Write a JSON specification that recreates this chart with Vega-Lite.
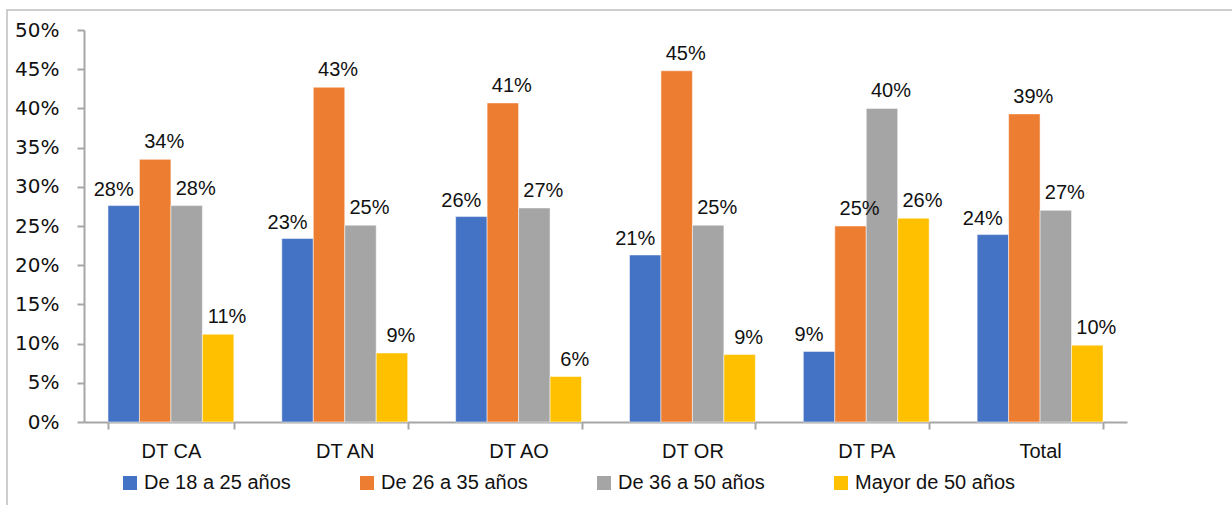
{
  "$schema": "https://vega.github.io/schema/vega-lite/v6.json",
  "width": 1240,
  "height": 510,
  "autosize": {"type": "none"},
  "padding": {"left": 7, "top": 10, "right": 0, "bottom": 0},
  "background": "white",
  "config": {
    "view": {"stroke": "#bfbfbf", "strokeWidth": 1.5},
    "axis": {"grid": false, "domainColor": "#a6a6a6", "domainWidth": 2, "tickColor": "#a6a6a6", "tickWidth": 2, "labelColor": "#111111", "title": null}
  },
  "data": {
    "values": [
      {"dt": "DT CA", "grupo": "De 18 a 25 años", "v": 0.276},
      {"dt": "DT CA", "grupo": "De 26 a 35 años", "v": 0.335},
      {"dt": "DT CA", "grupo": "De 36 a 50 años", "v": 0.276},
      {"dt": "DT CA", "grupo": "Mayor de 50 años", "v": 0.112},
      {"dt": "DT AN", "grupo": "De 18 a 25 años", "v": 0.234},
      {"dt": "DT AN", "grupo": "De 26 a 35 años", "v": 0.427},
      {"dt": "DT AN", "grupo": "De 36 a 50 años", "v": 0.251},
      {"dt": "DT AN", "grupo": "Mayor de 50 años", "v": 0.088},
      {"dt": "DT AO", "grupo": "De 18 a 25 años", "v": 0.262},
      {"dt": "DT AO", "grupo": "De 26 a 35 años", "v": 0.407},
      {"dt": "DT AO", "grupo": "De 36 a 50 años", "v": 0.273},
      {"dt": "DT AO", "grupo": "Mayor de 50 años", "v": 0.058},
      {"dt": "DT OR", "grupo": "De 18 a 25 años", "v": 0.213},
      {"dt": "DT OR", "grupo": "De 26 a 35 años", "v": 0.448},
      {"dt": "DT OR", "grupo": "De 36 a 50 años", "v": 0.251},
      {"dt": "DT OR", "grupo": "Mayor de 50 años", "v": 0.086},
      {"dt": "DT PA", "grupo": "De 18 a 25 años", "v": 0.090},
      {"dt": "DT PA", "grupo": "De 26 a 35 años", "v": 0.250},
      {"dt": "DT PA", "grupo": "De 36 a 50 años", "v": 0.400},
      {"dt": "DT PA", "grupo": "Mayor de 50 años", "v": 0.260},
      {"dt": "Total", "grupo": "De 18 a 25 años", "v": 0.239},
      {"dt": "Total", "grupo": "De 26 a 35 años", "v": 0.393},
      {"dt": "Total", "grupo": "De 36 a 50 años", "v": 0.270},
      {"dt": "Total", "grupo": "Mayor de 50 años", "v": 0.098}
    ]
  },
  "encoding": {
    "x": {
      "field": "dt", "type": "nominal", "sort": null,
      "scale": {"range": [77, 1120], "paddingInner": 0.276, "paddingOuter": 0.138},
      "axis": {"orient": "bottom", "offset": -98, "labelAngle": 0, "tickBand": "extent", "tickSize": 7, "labelPadding": 12, "labelFont": "Liberation Sans", "labelFontSize": 20}
    },
    "xOffset": {
      "field": "grupo", "type": "nominal",
      "scale": {"domain": ["De 18 a 25 años", "De 26 a 35 años", "De 36 a 50 años", "Mayor de 50 años"], "paddingInner": 0, "paddingOuter": 0}
    },
    "y": {
      "field": "v", "type": "quantitative",
      "scale": {"domain": [0, 0.5], "range": [412, 20], "nice": false, "zero": true},
      "axis": {"orient": "left", "offset": -77, "format": ".0%", "values": [0, 0.05, 0.1, 0.15, 0.2, 0.25, 0.3, 0.35, 0.4, 0.45, 0.5], "tickSize": 7, "labelPadding": 18, "labelFont": "DejaVu Sans", "labelFontSize": 20}
    }
  },
  "layer": [
    {
      "mark": {"type": "bar", "stroke": "white", "strokeWidth": 0.5},
      "encoding": {
        "color": {
          "field": "grupo", "type": "nominal",
          "scale": {"domain": ["De 18 a 25 años", "De 26 a 35 años", "De 36 a 50 años", "Mayor de 50 años"], "range": ["#4472C4", "#ED7D31", "#A5A5A5", "#FFC000"]},
          "legend": {
            "title": null, "orient": "none", "legendX": 113, "legendY": 463,
            "direction": "horizontal", "columns": 4, "gridAlign": "all", "columnPadding": 52,
            "symbolType": "square", "symbolSize": 196, "symbolStrokeWidth": 0, "labelOffset": 4,
            "labelFont": "Liberation Sans", "labelFontSize": 20, "labelColor": "#111111", "labelLimit": 300
          }
        }
      }
    },
    {
      "transform": [{"filter": "datum.grupo === 'De 18 a 25 años'"}],
      "mark": {"type": "text", "baseline": "alphabetic", "dy": -10, "dx": -10, "font": "Liberation Sans", "fontSize": 20, "color": "#111111"},
      "encoding": {"text": {"field": "v", "type": "quantitative", "format": ".0%"}}
    },
    {
      "transform": [{"filter": "datum.grupo !== 'De 18 a 25 años'"}],
      "mark": {"type": "text", "baseline": "alphabetic", "dy": -11, "dx": 9, "font": "Liberation Sans", "fontSize": 20, "color": "#111111"},
      "encoding": {"text": {"field": "v", "type": "quantitative", "format": ".0%"}}
    }
  ]
}
